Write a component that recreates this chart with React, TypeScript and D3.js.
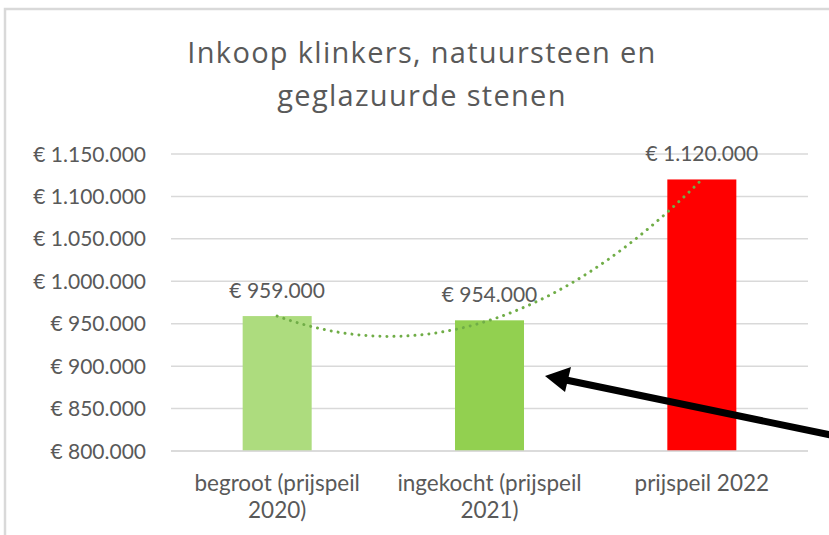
import React from 'react';
import * as d3 from 'd3';

const categories = [['begroot (prijspeil', '2020)'], ['ingekocht (prijspeil', '2021)'], ['prijspeil 2022']];
const values = [959000, 954000, 1120000];
const valueLabels = ['€ 959.000', '€ 954.000', '€ 1.120.000'];
const barColors = ['#ADDC7E', '#92D050', '#FF0000'];
const yTicks = [800000, 850000, 900000, 950000, 1000000, 1050000, 1100000, 1150000];
const titleLines = ['Inkoop klinkers, natuursteen en', 'geglazuurde stenen'];

const W = 829;
const H = 535;
const font = 'Lato, "Open Sans", sans-serif';
const titleFont = '"Open Sans", Lato, sans-serif';
const textColor = '#595959';

// euro format with dots as thousand separator
const fmt = (v: number) => '€ ' + d3.format(',')(v).replace(/,/g, '.');

// polynomial (order 2) trendline fit, like Excel does
function fitQuadratic(xs: number[], ys: number[]) {
  const n = xs.length;
  const S = (f: (i: number) => number) => d3.sum(d3.range(n), f);
  const m = [
    [n, S((i) => xs[i]), S((i) => xs[i] ** 2), S((i) => ys[i])],
    [S((i) => xs[i]), S((i) => xs[i] ** 2), S((i) => xs[i] ** 3), S((i) => xs[i] * ys[i])],
    [S((i) => xs[i] ** 2), S((i) => xs[i] ** 3), S((i) => xs[i] ** 4), S((i) => xs[i] ** 2 * ys[i])],
  ];
  for (let c = 0; c < 3; c++) {
    for (let r = 0; r < 3; r++) {
      if (r === c) continue;
      const f = m[r][c] / m[c][c];
      for (let k = c; k < 4; k++) m[r][k] -= f * m[c][k];
    }
  }
  const coef = [m[0][3] / m[0][0], m[1][3] / m[1][1], m[2][3] / m[2][2]];
  return (x: number) => coef[0] + coef[1] * x + coef[2] * x * x;
}

export default function App() {
  const x = d3
    .scaleBand<number>()
    .domain(d3.range(values.length))
    .range([171, 808])
    .paddingInner(0.675)
    .paddingOuter(0.3375);
  const y = d3.scaleLinear().domain([800000, 1150000]).range([451, 154]);

  const trend = fitQuadratic(d3.range(values.length), values);
  const tx = d3.scaleLinear().domain([0, values.length - 1]).range([x(0)! + x.bandwidth() / 2, x(values.length - 1)! + x.bandwidth() / 2]);
  const trendPts = d3.range(0, values.length - 1 + 1e-9, 0.02).map((t) => [tx(t), y(trend(t))] as [number, number]);
  const line = d3.line().curve(d3.curveLinear);

  return (
    <div style={{ position: 'absolute', left: 0, top: 0 }}>
      <svg width={W} height={H} style={{ display: 'block' }}>
        <rect x={0} y={0} width={W} height={H} fill="#fff" />
        {/* chart area border */}
        <path d={`M5,${H} V9 H${W}`} fill="none" stroke="#D9D9D9" strokeWidth={2.5} />

        {titleLines.map((t, i) => (
          <text key={i} x={422} y={63 + i * 43} textAnchor="middle" fontFamily={titleFont} fontSize={29} letterSpacing={1.3} fill={textColor}>
            {t}
          </text>
        ))}

        {yTicks.map((t) => (
          <g key={t}>
            <line x1={171} x2={808} y1={y(t)} y2={y(t)} stroke="#D9D9D9" strokeWidth={1.5} />
            <text x={146} y={y(t)} dy="0.36em" textAnchor="end" fontFamily={font} fontSize={21} fill={textColor}>
              {fmt(t)}
            </text>
          </g>
        ))}

        {values.map((v, i) => (
          <g key={i}>
            <rect x={x(i)} y={y(v)} width={x.bandwidth()} height={y(800000) - y(v)} fill={barColors[i]} />
            <text x={x(i)! + x.bandwidth() / 2} y={y(v) - 18} textAnchor="middle" fontFamily={font} fontSize={21} fill={textColor}>
              {valueLabels[i]}
            </text>
            {categories[i].map((c, j) => (
              <text key={j} x={x(i)! + x.bandwidth() / 2} y={491 + j * 27} textAnchor="middle" fontFamily={font} fontSize={22.5} fill={textColor}>
                {c}
              </text>
            ))}
          </g>
        ))}

        <line x1={171} x2={808} y1={y(800000)} y2={y(800000)} stroke="#D9D9D9" strokeWidth={1.5} />

        <path d={line(trendPts)!} fill="none" stroke="#70AD47" strokeWidth={3} strokeDasharray="0.01 7" strokeLinecap="round" />

        {/* annotation arrow */}
        <line x1={566} y1={380} x2={845} y2={438} stroke="#000" strokeWidth={7} />
        <polygon points="545,376 571,367 565,392" fill="#000" />
      </svg>
    </div>
  );
}
